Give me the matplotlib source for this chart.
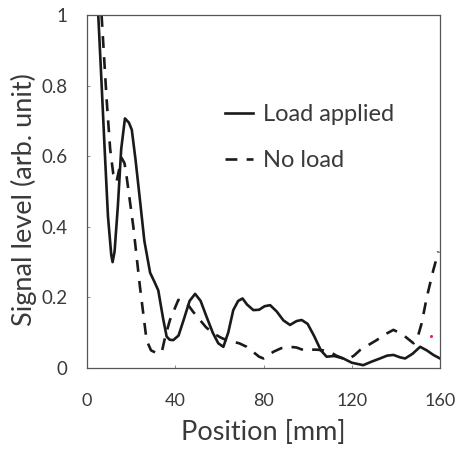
import matplotlib
matplotlib.use("Agg")
import matplotlib.pyplot as plt

plt.rcParams['font.family'] = ['Lato', 'DejaVu Sans']

# Load applied (solid)
load_x = [5.1, 6.5, 8, 9.5, 11, 11.6, 12.5, 14, 15.5, 17.2, 19, 20.3, 22, 24, 26, 28.6, 30.5, 32.3,
          34.5, 36.1, 37.5, 39.1, 41.5, 44, 46.5, 49, 51.5, 54.2, 57, 59.5, 61.8, 64, 66.3, 68.5,
          70.5, 72.5, 75.4, 78, 80.5, 83, 86, 89, 92, 95, 97.3, 100, 103, 106, 108.6, 112, 116.2,
          120, 125.2, 129, 132.8, 136, 138.9, 142, 144.2, 147.5, 151, 154, 157, 160]
load_y = [1.0, 0.82, 0.62, 0.43, 0.32, 0.30, 0.33, 0.46, 0.62, 0.707, 0.695, 0.675, 0.59, 0.476,
          0.36, 0.27, 0.245, 0.22, 0.14, 0.089, 0.08, 0.079, 0.092, 0.14, 0.19, 0.21, 0.19, 0.145,
          0.10, 0.07, 0.06, 0.10, 0.164, 0.19, 0.197, 0.18, 0.164, 0.165, 0.175, 0.178, 0.16,
          0.135, 0.122, 0.133, 0.136, 0.125, 0.09, 0.05, 0.032, 0.034, 0.027, 0.015, 0.008,
          0.018, 0.027, 0.035, 0.037, 0.03, 0.027, 0.04, 0.06, 0.05, 0.037, 0.027]

# No load (dashed)
noload_x = [6.6, 8.9, 10.5, 11.9, 13.4, 15.7, 17, 18, 19.5, 21, 24, 27, 29, 31.6, 33.9, 35.5, 37.6,
            41.4, 45.2, 48, 51.2, 54, 57.3, 61, 63.3, 66.3, 69, 72.4, 75.4, 78, 80, 82, 84.5, 88,
            92, 95, 98, 101, 104, 107, 110, 113, 117.7, 121, 123.8, 127, 131.3, 135, 138.9, 141.5,
            143.4, 146, 148, 150, 151.7, 154, 157, 159.3]
noload_y = [1.0, 0.76, 0.62, 0.55, 0.528, 0.595, 0.58, 0.54, 0.47, 0.40, 0.23, 0.079, 0.05, 0.042,
            0.045, 0.09, 0.136, 0.193, 0.184, 0.16, 0.136, 0.115, 0.098, 0.085, 0.079, 0.074, 0.07,
            0.06, 0.045, 0.032, 0.027, 0.035, 0.046, 0.056, 0.06, 0.058, 0.051, 0.052, 0.052, 0.05,
            0.046, 0.035, 0.023, 0.035, 0.051, 0.063, 0.079, 0.095, 0.108, 0.10, 0.093, 0.08, 0.07,
            0.09, 0.127, 0.20, 0.278, 0.33]

# stray magenta speck in the reference
speck_x = [155.8]
speck_y = [0.09]

x_ticks = [0, 40, 80, 120, 160]
y_ticks = [0, 0.2, 0.4, 0.6, 0.8, 1.0]
y_tick_labels = ['0', '0.2', '0.4', '0.6', '0.8', '1']

fig = plt.figure(figsize=(4.62, 4.53), dpi=100)
ax = fig.add_axes([87/462, 85/453, 353/462, 353/453])

ax.plot(load_x, load_y, color='#1a1a1a', lw=1.9, solid_joinstyle='round', label='Load applied')
ax.plot(noload_x, noload_y, color='#1a1a1a', lw=1.9, dashes=(4.5, 3.5), label='No load')
ax.plot(speck_x, speck_y, 'o', color='#e0206a', ms=2.2, mec='none')

ax.set_xlim(0, 160)
ax.set_ylim(0, 1)
ax.set_xticks(x_ticks)
ax.set_xticklabels([str(t) for t in x_ticks])
ax.set_yticks(y_ticks)
ax.set_yticklabels(y_tick_labels)
ax.tick_params(axis='both', direction='in', length=2, width=0.6, colors='#777777',
               labelcolor='#3a3a3a')
ax.tick_params(axis='y', pad=14, labelsize=13.5)
ax.tick_params(axis='x', pad=18, labelsize=13)
for s in ax.spines.values():
    s.set_linewidth(0.9)
    s.set_color('#555555')

ax.set_xlabel('Position [mm]', fontsize=19.5, color='#3a3a3a', labelpad=8)
ax.set_ylabel('Signal level (arb. unit)', fontsize=19.5, color='#3a3a3a')
ax.yaxis.set_label_coords(-0.142, 0.476)

leg = ax.legend(loc='center left', bbox_to_anchor=(0.331, 0.653), frameon=False, fontsize=17,
                handlelength=1.18, handletextpad=0.42, labelspacing=1.05, labelcolor='#3a3a3a')

fig.savefig('out.png', dpi=100)
